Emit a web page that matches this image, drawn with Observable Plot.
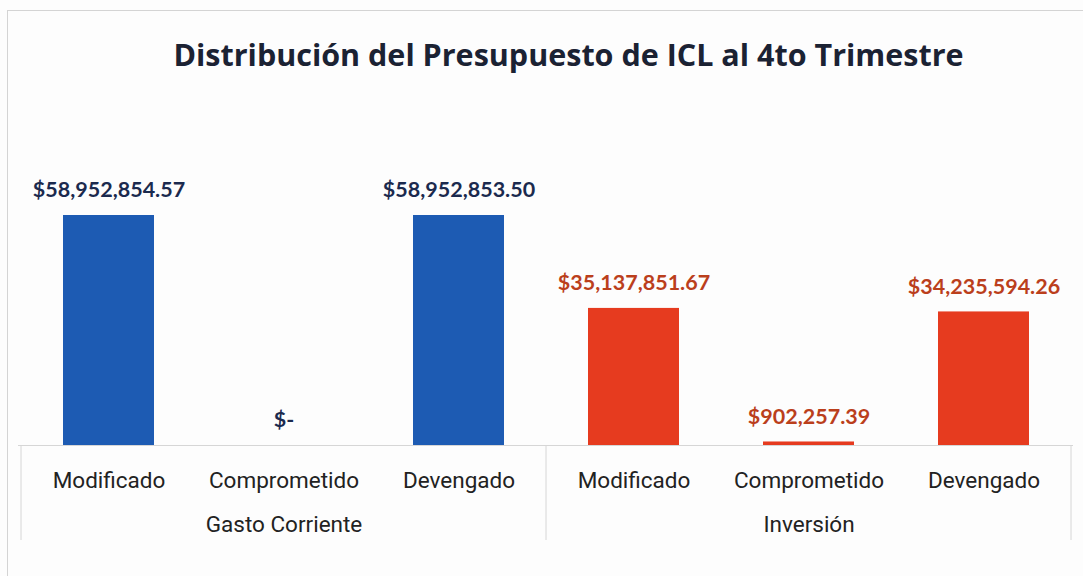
<!DOCTYPE html>
<html>
<head>
<meta charset="utf-8">
<script src="https://cdn.jsdelivr.net/npm/d3@7"></script>
<script src="https://cdn.jsdelivr.net/npm/@observablehq/plot@0.6"></script>
<style>
  html, body { margin: 0; padding: 0; background: #ffffff; }
  #wrap { position: relative; width: 1083px; height: 576px; overflow: hidden; background: #fdfdfd; }
  #frame { position: absolute; left: 7px; top: 10px; width: 1100px; height: 600px; border: 1px solid #d4d4d4; box-sizing: border-box; }
  #title { position: relative; height: 100px; box-sizing: border-box; padding-left: 54px; padding-top: 33px;
           text-align: center; font-family: "Open Sans", sans-serif; font-weight: 700; font-size: 30.5px;
           color: #1b2233; line-height: 42px; }
  #chart { position: relative; }
  #chart svg { display: block; }
</style>
</head>
<body>
<div id="wrap">
  <div id="frame"></div>
  <div id="title">Distribución del Presupuesto de ICL al 4to Trimestre</div>
  <div id="chart"></div>
</div>
<script>
const groups = ["Gasto Corriente", "Gasto Corriente", "Gasto Corriente", "Inversión", "Inversión", "Inversión"];
const stages = ["Modificado", "Comprometido", "Devengado", "Modificado", "Comprometido", "Devengado"];
const values = [58952854.57, 0, 58952853.50, 35137851.67, 902257.39, 34235594.26];
const groupNames = ["Gasto Corriente", "Inversión"];
const barColors = {"Gasto Corriente": "#1d5bb3", "Inversión": "#e63b1f"};
const labelColors = {"Gasto Corriente": "#1b2a4e", "Inversión": "#bb3f1c"};

const fmt = v => v === 0 ? "$-" : "$" + d3.format(",.2f")(v);
const data = values.map((v, i) => ({key: i, group: groups[i], stage: stages[i], value: v, label: fmt(v)}));
const keys = data.map(d => d.key);
const groupMid = groupNames.map(g => {
  const ks = data.filter(d => d.group === g).map(d => d.key);
  return {group: g, key: ks[Math.floor(ks.length / 2)], first: ks[0], last: ks[ks.length - 1]};
});

// vertical separators below the baseline, at band-step edges of each group
const separators = (index, scales, values, dims) => {
  const x = scales.x;
  const half = x.step() / 2;
  const yTop = dims.height - dims.marginBottom;
  const yBot = yTop + 95;
  const g = d3.create("svg:g").attr("stroke", "#d6d6d6").attr("stroke-width", 1);
  const edges = [];
  groupMid.forEach((gm, i) => {
    if (i === 0) edges.push(x(gm.first) + x.bandwidth() / 2 - half);
    edges.push(x(gm.last) + x.bandwidth() / 2 + half);
  });
  edges.forEach(e => g.append("line").attr("x1", e).attr("x2", e).attr("y1", yTop).attr("y2", yBot));
  return g.node();
};

const chart = Plot.plot({
  width: 1083,
  height: 476,
  marginLeft: 18,
  marginRight: 10,
  marginTop: 115,
  marginBottom: 131,
  style: {background: "transparent", overflow: "visible"},
  x: {domain: keys, paddingInner: 0.48, paddingOuter: 0.24, axis: null},
  y: {axis: null},
  marks: [
    Plot.ruleY([0], {stroke: "#d6d6d6", strokeWidth: 1}),
    separators,
    Plot.barY(data, {x: "key", y: "value", fill: d => barColors[d.group]}),
    Plot.text(data, {x: "key", y: "value", text: "label", dy: -25, lineAnchor: "middle",
      fill: d => labelColors[d.group], fontSize: 21.5, fontWeight: 700, fontFamily: "Lato, sans-serif"}),
    Plot.text(data, {x: "key", text: "stage", frameAnchor: "bottom", dy: 35, lineAnchor: "middle",
      fill: "#222222", fontSize: 22.5, fontFamily: "Roboto, sans-serif"}),
    Plot.text(groupMid, {x: "key", text: "group", frameAnchor: "bottom", dy: 79, lineAnchor: "middle",
      fill: "#222222", fontSize: 22.5, fontFamily: "Roboto, sans-serif"})
  ]
});
document.getElementById("chart").appendChild(chart);
</script>
</body>
</html>
